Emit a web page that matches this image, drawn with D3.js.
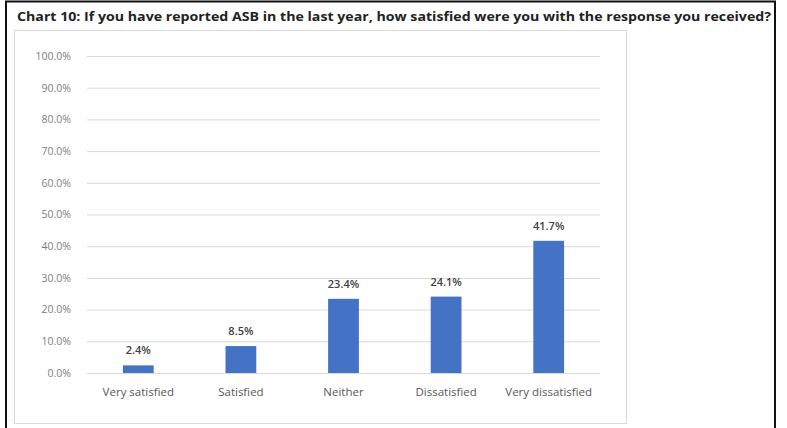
<!DOCTYPE html>
<html>
<head>
<meta charset="utf-8">
<script src="https://cdn.jsdelivr.net/npm/d3@7"></script>
<style>
  body { margin: 0; background: #fff; }
  svg { display: block; }
  svg text { font-family: "Open Sans", "Noto Sans", sans-serif; }
</style>
</head>
<body>
<svg id="chart"></svg>
<script>
let title = "Chart 10: If you have reported ASB in the last year, how satisfied were you with the response you received?";
let categories = ["Very satisfied", "Satisfied", "Neither", "Dissatisfied", "Very dissatisfied"];
let values = [2.4, 8.5, 23.4, 24.1, 41.7];
let yTicks = [0, 10, 20, 30, 40, 50, 60, 70, 80, 90, 100];

let width = 787;
let height = 428;
let plot = { left: 87, right: 600, top: 56, bottom: 373 };

let svg = d3.select("#chart")
    .attr("width", width)
    .attr("height", height);

// outer frame
svg.append("rect")
    .attr("x", 6).attr("y", 1.5)
    .attr("width", 769).attr("height", 440)
    .attr("fill", "none")
    .attr("stroke", "#111")
    .attr("stroke-width", 2);

// chart area box
svg.append("rect")
    .attr("x", 14.5).attr("y", 30.5)
    .attr("width", 612).attr("height", 393)
    .attr("fill", "#fff")
    .attr("stroke", "#d9d9d9")
    .attr("stroke-width", 1);

svg.append("text")
    .attr("x", 17)
    .attr("y", 21)
    .attr("font-size", 13)
    .attr("font-weight", "bold")
    .attr("fill", "#222")
    .attr("textLength", 754)
    .attr("lengthAdjust", "spacingAndGlyphs")
    .text(title);

let xScale = d3.scaleBand()
    .domain(categories)
    .range([plot.left, plot.right])
    .paddingInner(0.7)
    .paddingOuter(0.35);

let yScale = d3.scaleLinear()
    .domain([0, 100])
    .range([plot.bottom, plot.top]);

// gridlines + y labels
let yAxis = d3.axisLeft(yScale)
    .tickValues(yTicks)
    .tickSize(-(plot.right - plot.left))
    .tickPadding(16)
    .tickFormat(d => d.toFixed(1) + "%");

let gy = svg.append("g")
    .attr("transform", `translate(${plot.left}, 0)`)
    .call(yAxis);
gy.select(".domain").remove();
gy.selectAll(".tick line").attr("stroke", "#d9d9d9");
gy.selectAll(".tick text")
    .attr("fill", "#808080")
    .attr("font-size", 10.5);

// x labels
let xAxis = d3.axisBottom(xScale).tickSize(0).tickPadding(15);
let gx = svg.append("g")
    .attr("transform", `translate(0, ${plot.bottom})`)
    .call(xAxis);
gx.select(".domain").attr("stroke", "#d9d9d9");
gx.selectAll(".tick text")
    .attr("fill", "#595959")
    .attr("font-size", 11.5);

svg.selectAll("rect.bar")
    .data(values)
    .enter()
    .append("rect")
    .attr("class", "bar")
    .attr("x", (d, i) => xScale(categories[i]))
    .attr("y", d => yScale(d))
    .attr("width", xScale.bandwidth())
    .attr("height", d => yScale(0) - yScale(d))
    .attr("fill", "#4472c4");

svg.selectAll("text.lbl")
    .data(values)
    .enter()
    .append("text")
    .attr("class", "lbl")
    .attr("x", (d, i) => xScale(categories[i]) + xScale.bandwidth() / 2)
    .attr("y", d => yScale(d) - 11)
    .attr("text-anchor", "middle")
    .attr("font-size", 11)
    .attr("font-weight", 600)
    .attr("fill", "#404040")
    .text(d => d.toFixed(1) + "%");
</script>
</body>
</html>
